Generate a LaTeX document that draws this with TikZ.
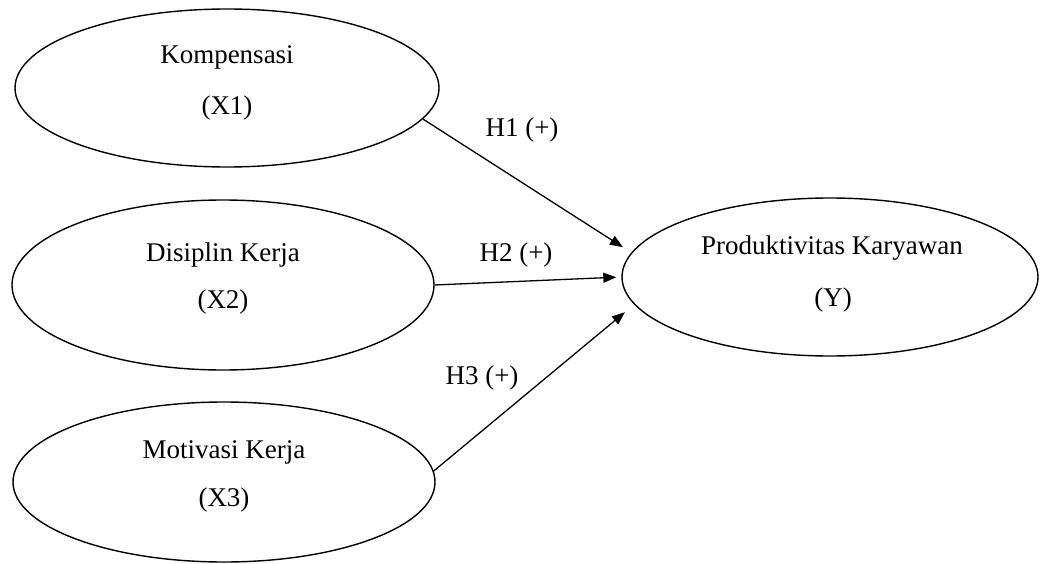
\documentclass[tikz,border=0pt]{standalone}
\usepackage{fontspec}
\setmainfont{Liberation Serif}
\usetikzlibrary{shapes.geometric,arrows.meta}
\begin{document}
\begin{tikzpicture}[x=1pt,y=-1pt,
  var/.style={draw=black, line width=1.4pt, ellipse, inner sep=0pt},
  lbl/.style={font=\fontsize{27}{30}\selectfont, inner sep=0pt},
  conn/.style={line width=1.3pt, -{Triangle[length=13pt,width=10pt]}}]
\useasboundingbox (0,0) rectangle (1041,564);
\node[var, minimum width=424pt, minimum height=158pt] (X1) at (227,88) {};
\node[var, minimum width=422pt, minimum height=170pt] (X2) at (223,285) {};
\node[var, minimum width=422pt, minimum height=160pt] (X3) at (224,482) {};
\node[var, minimum width=416pt, minimum height=158pt] (Y) at (830,277) {};
\node[lbl] (t1a) at (227,57) {Kompensasi};
\node[lbl] (t1b) at (227,108) {(X1)};
\node[lbl] (t2a) at (223,255) {Disiplin Kerja};
\node[lbl] (t2b) at (223,302) {(X2)};
\node[lbl] (t3a) at (224,452) {Motivasi Kerja};
\node[lbl] (t3b) at (224,500) {(X3)};
\node[lbl] (tya) at (832,248) {Produktivitas Karyawan};
\node[lbl] (tyb) at (833,300) {(Y)};
\draw[conn, shorten >=10pt] (X1.-9) -- (Y.173);
\draw[conn, shorten >=5pt] (X2.east) -- (Y.west);
\draw[conn, shorten >=12pt] (X3.3) -- (Y.188);
\node[lbl] (h1) at (522,130) {H1 (+)};
\node[lbl] (h2) at (516,255) {H2 (+)};
\node[lbl] (h3) at (482,378) {H3 (+)};
\end{tikzpicture}
\end{document}
